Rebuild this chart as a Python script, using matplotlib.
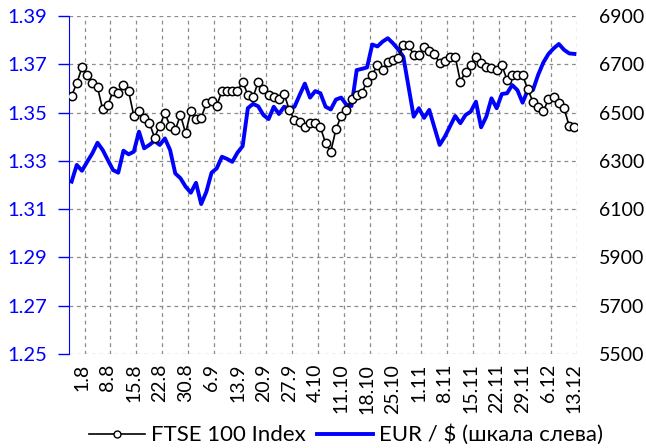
import numpy as np
import matplotlib
matplotlib.use("Agg")
import matplotlib.pyplot as plt
from matplotlib.lines import Line2D

plt.rcParams['font.family'] = ['Lato', 'DejaVu Sans']

# FTSE 100, daily closes (right axis)
ftse = [6570, 6621, 6687, 6656, 6621, 6605, 6513, 6531, 6589, 6582,
        6614, 6589, 6487, 6506, 6476, 6458, 6396, 6446, 6497, 6444,
        6428, 6490, 6414, 6506, 6473, 6479, 6538, 6548, 6528, 6589,
        6589, 6589, 6589, 6628, 6573, 6563, 6628, 6596, 6573, 6566,
        6555, 6577, 6511, 6469, 6462, 6440, 6458, 6458, 6439, 6373,
        6338, 6431, 6486, 6511, 6555, 6573, 6582, 6628, 6656, 6697,
        6676, 6711, 6718, 6725, 6780, 6780, 6738, 6738, 6773, 6756,
        6743, 6704, 6714, 6732, 6732, 6628, 6669, 6697, 6732, 6704,
        6687, 6683, 6676, 6697, 6635, 6656, 6656, 6656, 6596, 6545,
        6522, 6506, 6555, 6566, 6538, 6518, 6444, 6439]

# EUR / USD (left axis)
eur = [1.3214, 1.3283, 1.3259, 1.3296, 1.3331, 1.3375, 1.3345, 1.3303, 1.3262, 1.3251,
       1.3342, 1.3327, 1.3338, 1.3421, 1.3352, 1.3366, 1.3383, 1.3366, 1.3393, 1.3345,
       1.3248, 1.3228, 1.3193, 1.3168, 1.3209, 1.3121, 1.3172, 1.3251, 1.3269, 1.3317,
       1.3308, 1.3296, 1.3334, 1.3361, 1.3518, 1.3536, 1.3526, 1.3490, 1.3473, 1.3524,
       1.3494, 1.3524, 1.3518, 1.3524, 1.3573, 1.3620, 1.3562, 1.3589, 1.3580, 1.3524,
       1.3513, 1.3554, 1.3562, 1.3533, 1.3527, 1.3676, 1.3681, 1.3687, 1.3782, 1.3774,
       1.3794, 1.3808, 1.3787, 1.3762, 1.3731, 1.3607, 1.3483, 1.3518, 1.3478, 1.3511,
       1.3438, 1.3366, 1.3400, 1.3443, 1.3486, 1.3456, 1.3490, 1.3504, 1.3545, 1.3439,
       1.3483, 1.3559, 1.3518, 1.3577, 1.3580, 1.3614, 1.3593, 1.3541, 1.3593, 1.3593,
       1.3656, 1.3707, 1.3743, 1.3766, 1.3784, 1.3760, 1.3745, 1.3743]

# weekly labels, every 5th trading day starting at 1.8
date_labels = ['1.8', '8.8', '15.8', '22.8', '30.8', '6.9', '13.9', '20.9', '27.9',
               '4.10', '11.10', '18.10', '25.10', '1.11', '8.11', '15.11', '22.11',
               '29.11', '6.12', '13.12']
first_label = 2

x = np.arange(len(ftse))
lab_pos = first_label + 5 * np.arange(len(date_labels))

fig = plt.figure(figsize=(6.46, 4.48), dpi=100)
ax = fig.add_axes([69 / 646, 1 - 354 / 448, 508 / 646, 338 / 448])
ax2 = ax.twinx()

grid_kw = dict(color='#8c8c8c', linewidth=0.9, linestyle=(0, (3, 3)))

ax.plot(x, eur, color='#0000ff', linewidth=2.8, solid_joinstyle='round', zorder=3)
ax2.plot(x, ftse, color='black', linewidth=1.2, marker='o', markersize=6,
         markerfacecolor='white', markeredgecolor='black', markeredgewidth=1.1)

ax.set_xlim(-0.5, len(ftse) - 0.5)
ax.set_ylim(1.25, 1.39)
yt = np.arange(1.25, 1.3901, 0.02)
ax.set_yticks(yt)
ax.set_yticklabels([f'{v:.2f}' for v in yt])
ax2.set_ylim(5500, 6900)
ax2.set_yticks(np.arange(5500, 6901, 200))

for v in yt:
    ax.axhline(v, zorder=0, **grid_kw)
for p in lab_pos:
    ax.axvline(p + 0.5, zorder=0, **grid_kw)

ax.set_xticks(lab_pos)
ax.set_xticklabels(date_labels, rotation=90, fontsize=14)
ax.tick_params(axis='x', length=0, pad=7)
ax.tick_params(axis='y', colors='#0000ff', labelsize=14.5, length=8, width=1, pad=8)
ax2.tick_params(axis='y', colors='black', labelsize=14, length=0, pad=16)

for s in ['top', 'right', 'bottom']:
    ax.spines[s].set_visible(False)
    ax2.spines[s].set_visible(False)
ax2.spines['left'].set_visible(False)
ax.spines['left'].set_color('#0000ff')

handles = [Line2D([], [], color='black', linewidth=1.2, marker='o', markersize=5,
                  markerfacecolor='white', markeredgecolor='black'),
           Line2D([], [], color='#0000ff', linewidth=2.8)]
leg = fig.legend(handles, ['FTSE 100 Index', 'EUR / $ (шкала слева)'],
                 loc='center', bbox_to_anchor=(346 / 646, 1 - 435 / 448), ncol=2,
                 frameon=False, fontsize=16, handlelength=2.5, handletextpad=0.27,
                 columnspacing=0.55, borderaxespad=0, numpoints=1)

fig.savefig('out.png', dpi=100)
